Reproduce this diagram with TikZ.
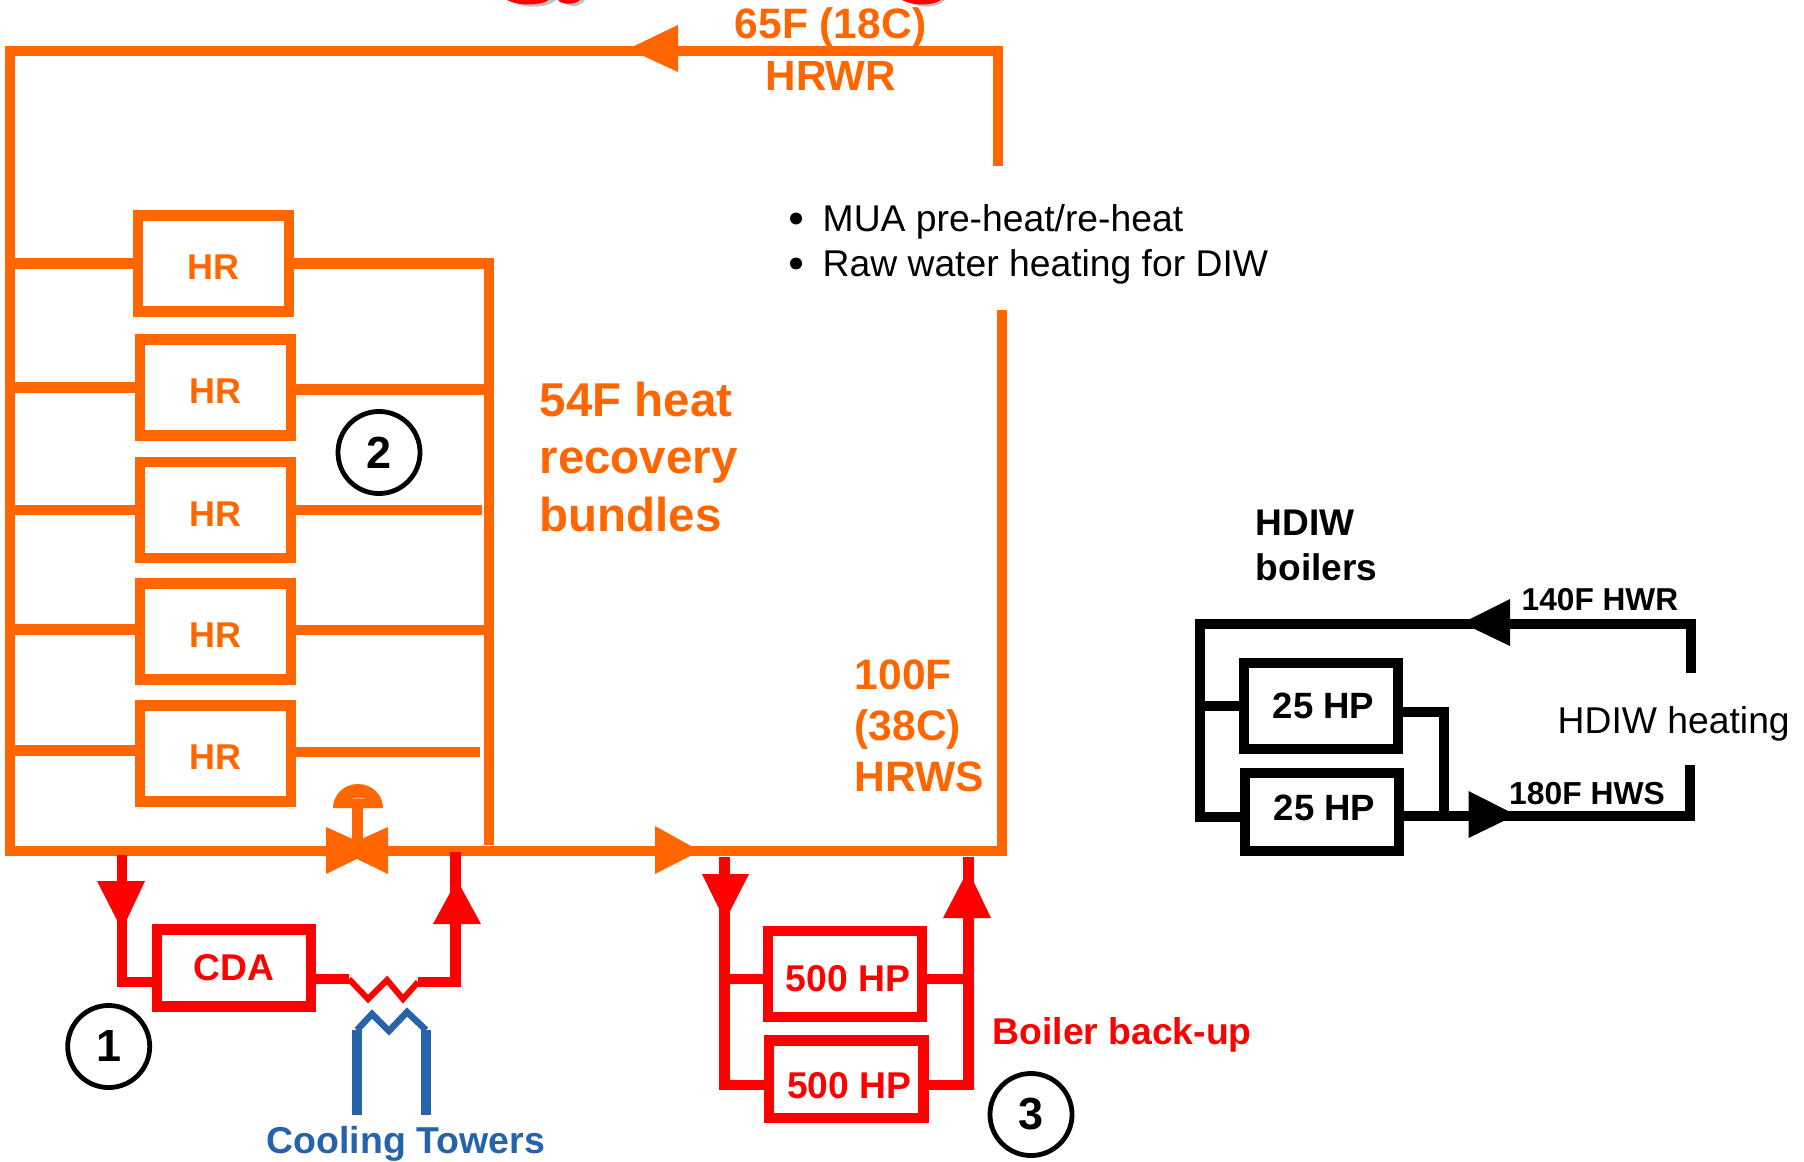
\documentclass[tikz,border=0pt]{standalone}
\usepackage{fontspec}
\setmainfont{Liberation Sans}
\usetikzlibrary{calc}
\definecolor{hrorange}{HTML}{FF6600}
\definecolor{ctblue}{HTML}{2663AB}
\definecolor{fragshadow}{HTML}{C0C0C0}
\newcommand{\fsz}[1]{\fontsize{#1}{#1}\selectfont}

\begin{document}
\begin{tikzpicture}[x=0.01cm,y=-0.01cm,
	opipe/.style={draw=hrorange,line width=0.105cm},
	rpipe/.style={draw=red,line width=0.105cm},
	kpipe/.style={draw=black,line width=0.1cm},
	hrbox/.style={opipe,minimum width=1.51cm,minimum height=0.96cm,inner sep=0pt,text=hrorange,text height=0.32cm,font=\fsz{10.2}\bfseries},
	redbox/.style={rpipe,minimum width=1.54cm,inner sep=0pt,text=red,font=\fsz{10.6}\bfseries},
	hpbox/.style={kpipe,minimum width=1.54cm,inner sep=0pt,font=\fsz{10.4}\bfseries},
	numcirc/.style={draw,circle,line width=0.048cm,minimum size=0.82cm,inner sep=0pt,font=\fsz{12.8}\bfseries},
	lbl/.style={inner sep=0pt,anchor=base west}]
	\useasboundingbox (0,0) rectangle (1804,1161);

	% cut-off heading at the top edge
	\fill[fragshadow] (510,0) .. controls (522,9) and (546,9) .. (556,0) -- cycle;
	\fill[fragshadow] (562,0) .. controls (566,8) and (580,8) .. (585,0) -- cycle;
	\fill[fragshadow] (905,0) .. controls (918,9) and (936,9) .. (945,0) -- cycle;
	\fill[red] (507,0) .. controls (518,6) and (540,6) .. (549,0) -- cycle;
	\fill[red] (558,0) .. controls (562,5) and (575,5) .. (580,0) -- cycle;
	\fill[red] (902,0) .. controls (913,6) and (932,6) .. (941,0) -- cycle;

	\coordinate (topL) at (10,51);
	\coordinate (topR) at (998,51);
	\coordinate (retEnd) at (998,166);
	\coordinate (botL) at (10,851);
	\coordinate (botR) at (1002,851);
	\coordinate (supEnd) at (1002,310);
	\coordinate (bundleEnd) at (489,845);
	\coordinate (cdaIn) at (122,855);
	\coordinate (cdaOut) at (455.5,852);
	\coordinate (blrIn) at (724.5,857);
	\coordinate (blrOut) at (968.5,857);
	\coordinate (dwTL) at (1200,624);
	\coordinate (dwTR) at (1691,624);
	\coordinate (dwRet) at (1691,673);
	\coordinate (dwBL) at (1200,817);
	\coordinate (dwBR) at (1690,816);
	\coordinate (dwSup) at (1690,765);

	\node[lbl,text=hrorange,font=\fsz{12.1}\bfseries] (tempret) at (734,39) {65F (18C)};
	\node[lbl,text=hrorange,font=\fsz{12}\bfseries] (hrwr) at (765,91) {HRWR};

	\draw[opipe] (retEnd) -- (topR) -- (topL) -- (botL) -- (botR) -- (supEnd);
	\fill[hrorange] (628,49) -- (678,25) -- (678,72) -- cycle;
	\fill[hrorange] (655,826) -- (700,851) -- (655,874) -- cycle;

	\node[hrbox] (hra) at (213.5,263.5) {HR};
	\node[hrbox] (hrb) at (215.6,387.6) {HR};
	\node[hrbox] (hrc) at (215.6,510) {HR};
	\node[hrbox] (hrd) at (215.6,631.5) {HR};
	\node[hrbox] (hre) at (215.6,753.5) {HR};

	\draw[opipe] (hra.west) -- (hra.west -| topL);
	\draw[opipe] (hrb.west) -- (hrb.west -| topL);
	\draw[opipe] (hrc.west) -- (hrc.west -| topL);
	\draw[opipe] ($(hrd.west)+(0,-2)$) -- ++(-125,0);
	\draw[opipe] ($(hre.west)+(0,-3)$) -- ++(-125,0);
	\draw[opipe] (hra.east) -| (bundleEnd);
	\draw[opipe] ($(hrb.east)+(0,2)$) -- ++(190,0);
	\draw[opipe] (hrc.east) -- ++(186,0);
	\draw[opipe] ($(hrd.east)+(0,-1.5)$) -- ++(190,0);
	\draw[opipe] ($(hre.east)+(0,-1.5)$) -- ++(184,0);

	% valve
	\fill[hrorange] (326,827) -- (357,841) -- (388,827) -- (388,874) -- (357,859) -- (326,874) -- cycle;
	\draw[hrorange,line width=0.105cm] (357.5,851) -- (357.5,806);
	\fill[hrorange] (333,808) arc[start angle=180,end angle=0,x radius=25,y radius=-24] -- cycle;
	\fill[white] (352,799) .. controls (355,797) and (362,797) .. (365,799) .. controls (360,798) and (356,798) .. (352,799) -- cycle;

	\node[lbl,text=hrorange,font=\fontsize{13.5}{16.4}\selectfont\bfseries,align=left,anchor=west] (bundlelbl) at (539,457) {54F heat\\recovery\\bundles};
	\node[lbl,text=hrorange,font=\fontsize{12.1}{14.6}\selectfont\bfseries,align=left,anchor=west] (hrwslbl) at (854,726) {100F\\(38C)\\HRWS};

	\node[lbl,font=\fsz{10.6}] (mualbl) at (822,232) {MUA pre-heat/re-heat};
	\node[lbl,font=\fsz{10.6}] (rawlbl) at (822,277) {Raw water heating for DIW};
	\fill (796,218.5) circle (6);
	\fill (796,263.5) circle (6);

	\node[redbox,minimum height=0.77cm] (cda) at (234,968) {CDA};
	\draw[rpipe] (cdaIn) |- ($(cda.west)+(0,14)$);
	\fill[red] (97,881) -- (145,881) -- (122,930) -- cycle;
	\coordinate (zigA) at (349,979);
	\coordinate (zigB) at (418,982);
	\draw[rpipe] ($(cda.east)+(0,11)$) -- (zigA);
	\draw[red,line width=0.06cm] (zigA) -- (368,999) -- (387,980) -- (403,999) -- (zigB);
	\draw[rpipe] (zigB) -| (cdaOut);
	\fill[red] (433,924) -- (457,880) -- (481,924) -- cycle;

	\draw[ctblue,line width=0.105cm] (357,1115) -- (357,1030);
	\draw[ctblue,line width=0.105cm] (426,1115) -- (426,1030);
	\draw[ctblue,line width=0.065cm] (357,1030) -- (372,1014) -- (389,1031) -- (407,1012) -- (426,1030);
	\node[lbl,text=ctblue,font=\fsz{10.65}\bfseries] (ctlbl) at (266,1153) {Cooling Towers};

	\node[redbox,minimum height=0.86cm,text height=0.35cm] (hpa) at (845,974) {\hspace*{0.06cm}500 HP};
	\node[redbox,minimum height=0.775cm,text height=0.39cm] (hpb) at (846.2,1079.2) {\hspace*{0.06cm}500 HP};
	\draw[rpipe] (blrIn) |- ($(hpb.west)+(0,6)$);
	\draw[rpipe] (blrOut) |- ($(hpb.east)+(0,6)$);
	\draw[rpipe] ($(hpa.west)+(0,5)$) -- ++(-39,0);
	\draw[rpipe] ($(hpa.east)+(0,5)$) -- ++(42,0);
	\fill[red] (702,874) -- (749,874) -- (725,921) -- cycle;
	\fill[red] (943,918) -- (968,870) -- (991,918) -- cycle;
	\node[lbl,text=red,font=\fsz{10.6}\bfseries] (backuplbl) at (992,1044) {Boiler back-up};

	\node[numcirc] (numa) at (108.7,1046.5) {1};
	\node[numcirc] (numb) at (379,452.5) {2};
	\node[numcirc] (numc) at (1031,1114.5) {3};

	\node[lbl,font=\fsz{10.55}\bfseries] (hdiwa) at (1255,535) {HDIW};
	\node[lbl,font=\fsz{10.55}\bfseries] (hdiwb) at (1255,580) {boilers};
	\node[hpbox,minimum height=0.85cm] (dwa) at (1321,706) {\hspace*{0.05cm}25 HP};
	\node[hpbox,minimum height=0.775cm,text depth=0.08cm] (dwb) at (1322,812.2) {\hspace*{0.05cm}25 HP};
	\draw[kpipe] (dwRet) -- (dwTR) -- (dwTL) -- (dwBL) -- (dwb.west |- dwBL);
	\draw[kpipe] (dwa.west) -- (dwa.west -| dwTL);
	\draw[kpipe] (dwb.east |- dwBR) -- (dwBR) -- (dwSup);
	\draw[kpipe] ($(dwa.east)+(0,6)$) -| ($(dwb.east |- dwBR)+(39.5,0)$);
	\fill (1462,623) -- (1510,599) -- (1510,646) -- cycle;
	\fill (1468.5,791) -- (1516,815) -- (1468.5,838) -- cycle;
	\node[lbl,font=\fsz{9}\bfseries] (hwrlbl) at (1521,610) {140F HWR};
	\node[lbl,font=\fsz{9.05}\bfseries] (hwslbl) at (1508.5,804) {180F HWS};
	\node[lbl,font=\fsz{10.6}] (dwhlbl) at (1557,733) {HDIW heating};

\end{tikzpicture}
\end{document}
